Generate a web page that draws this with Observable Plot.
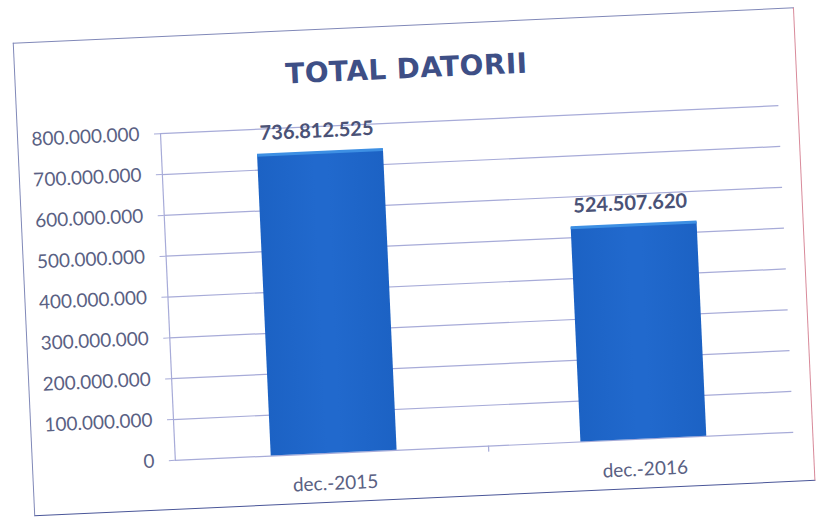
<!DOCTYPE html>
<html>
<head>
<meta charset="utf-8">
<script src="https://cdn.jsdelivr.net/npm/d3@7"></script>
<script src="https://cdn.jsdelivr.net/npm/@observablehq/plot@0.6"></script>
<style>
  html, body { margin: 0; padding: 0; background: #fff; }
  #wrap { position: relative; width: 820px; height: 519px; overflow: hidden; background: #fff; }
  #chart { position: absolute; left: 0; top: 0; width: 820px; height: 519px;
           transform: rotate(-2.6deg); transform-origin: 410px 260px; }
  #border { position: absolute; left: 23px; top: 25px; width: 780px; height: 472px;
            border: 1.5px solid #8088b8; border-bottom-color: #4a5698; border-right-color: #d88a9a; }
  #title { position: absolute; left: 0; top: 52px; width: 830px; height: 34px; line-height: 34px;
           text-align: center; font-family: "DejaVu Sans", sans-serif; font-weight: 700; font-size: 28px;
           letter-spacing: 0.4px; color: #3e4f86; }
  #plot { position: absolute; left: 0; top: 100px; }
</style>
</head>
<body>
<div id="wrap">
  <div id="chart">
    <div id="border"></div>
    <div id="title">TOTAL DATORII</div>
    <div id="plot"></div>
  </div>
</div>
<script>
const categories = ["dec.-2015", "dec.-2016"];
const values = [736812525, 524507620];
const yTicks = [0, 100000000, 200000000, 300000000, 400000000, 500000000, 600000000, 700000000, 800000000];

const data = categories.map((c, i) => ({category: c, value: values[i]}));
const fmt = d3.formatLocale({decimal: ",", thousands: ".", grouping: [3], currency: ["", ""]}).format(",d");

const gridColor = "#a7abd8";
const labelColor = "#5a6183";

const chart = Plot.plot({
  width: 820,
  height: 419,
  marginTop: 22,
  marginBottom: 70,
  marginLeft: 166,
  marginRight: 35,
  style: {fontFamily: "Lato, sans-serif", fontSize: "19px", color: labelColor, background: "transparent"},
  x: {domain: categories, paddingInner: 0.594, paddingOuter: 0.295, align: 0.525, label: null},
  y: {domain: [0, 800000000], label: null},
  marks: [
    Plot.gridY(yTicks, {stroke: gridColor, strokeOpacity: 1, strokeWidth: 1.2}),
    Plot.frame({anchor: "left", stroke: gridColor, strokeWidth: 1.2}),
    Plot.axisY({ticks: yTicks, tickFormat: fmt, tickSize: 6, tickPadding: 15, stroke: gridColor, fill: labelColor, fontSize: 19, label: null}),
    Plot.axisX({tickSize: 0, tickPadding: 23, fill: labelColor, fontSize: 19, label: null}),
    Plot.barY(data, {x: "category", y: "value", fill: "url(#barGrad)"}),
    Plot.tickY(data, {x: "category", y: "value", stroke: "#3d8fe3", strokeWidth: 3}),
    Plot.text(data, {x: "category", y: "value", text: d => fmt(d.value), lineAnchor: "bottom", dy: -15, dx: -3,
                     fontSize: 20, fontWeight: "bold", fill: "#4a5276"})
  ]
});

// subtle horizontal gradient for the bars (lighter centre, like the Excel fill)
const svg = d3.select(chart);
const defs = svg.insert("defs", ":first-child");
const grad = defs.append("linearGradient").attr("id", "barGrad").attr("x1", "0").attr("x2", "1").attr("y1", "0").attr("y2", "0");
grad.append("stop").attr("offset", "0%").attr("stop-color", "#1c62c4");
grad.append("stop").attr("offset", "45%").attr("stop-color", "#2169cd");
grad.append("stop").attr("offset", "55%").attr("stop-color", "#2169cd");
grad.append("stop").attr("offset", "100%").attr("stop-color", "#1c62c4");

// small tick on the category axis between the two categories (from the x scale)
const xs = chart.scale("x");
const ys = chart.scale("y");
const mid = (xs.apply(categories[0]) + xs.apply(categories[1])) / 2 + xs.bandwidth / 2;
const y0 = ys.apply(0);
svg.append("line").attr("x1", mid).attr("x2", mid).attr("y1", y0).attr("y2", y0 + 6)
  .attr("stroke", gridColor).attr("stroke-width", 1.2);

document.getElementById("plot").appendChild(chart);
</script>
</body>
</html>
